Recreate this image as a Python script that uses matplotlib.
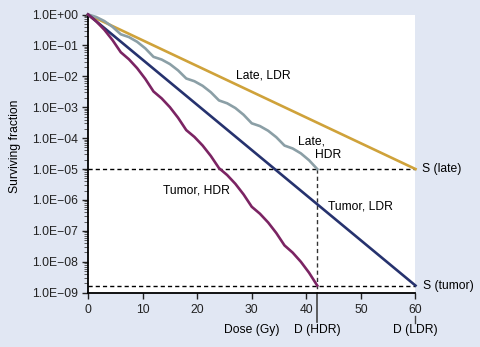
import matplotlib
matplotlib.use("Agg")
import matplotlib.pyplot as plt
import matplotlib.transforms as mtransforms
from matplotlib.ticker import LogLocator, FixedLocator, NullFormatter
import numpy as np

plt.rcParams['font.family'] = ['Liberation Sans', 'DejaVu Sans']
plt.rcParams['axes.unicode_minus'] = True

# Continuous low-dose-rate delivery (dose in Gy, surviving fraction)
ldr_dose = [0, 60]
late_ldr = [1.0, 1.0e-5]
tumor_ldr = [1.0, 1.7e-9]

# Fractionated high-dose-rate delivery: 7 fractions of 6 Gy
hdr_dose = [0, 1.5, 3, 4.5, 6, 7.5, 9, 10.5, 12, 13.5, 15, 16.5, 18, 19.5, 21,
            22.5, 24, 25.5, 27, 28.5, 30, 31.5, 33, 34.5, 36, 37.5, 39, 40.5, 42]
late_hdr_log10 = [0.0, -0.08, -0.213, -0.40, -0.64,
                  -0.731, -0.883, -1.096, -1.37,
                  -1.458, -1.603, -1.808, -2.07,
                  -2.159, -2.307, -2.514, -2.78,
                  -2.873, -3.026, -3.243, -3.52,
                  -3.61, -3.76, -3.97, -4.24,
                  -4.335, -4.493, -4.715, -5.00]
tumor_hdr_log10 = [0.0, -0.22, -0.495, -0.83, -1.22,
                   -1.449, -1.736, -2.084, -2.49,
                   -2.715, -2.998, -3.34, -3.74,
                   -3.961, -4.239, -4.576, -4.97,
                   -5.195, -5.478, -5.82, -6.22,
                   -6.445, -6.728, -7.07, -7.47,
                   -7.704, -8.00, -8.354, -8.77]

s_late = 1.0e-5
s_tumor = 1.7e-9
d_hdr = 42
d_ldr = 60

x_ticks = [0, 10, 20, 30, 40, 50, 60]
y_ticks = [1e0, 1e-1, 1e-2, 1e-3, 1e-4, 1e-5, 1e-6, 1e-7, 1e-8, 1e-9]
y_tick_labels = ["1.0E+00", "1.0E\u221201", "1.0E\u221202", "1.0E\u221203",
                 "1.0E\u221204", "1.0E\u221205", "1.0E\u221206", "1.0E\u221207",
                 "1.0E\u221208", "1.0E\u221209"]

GOLD = "#cfa23a"
GREY = "#8b9fa6"
NAVY = "#26326e"
PURPLE = "#7b2463"
BG = "#e1e7f3"
FS = 8.7

fig = plt.figure(figsize=(4.81, 3.47), dpi=100, facecolor=BG)
ax = fig.add_axes([88 / 481, 1 - 292.7 / 347, 327.5 / 481, 278.2 / 347])
ax.set_facecolor("white")
ax.set_yscale("log")
ax.set_xlim(0, 60)
ax.set_ylim(1e-9, 1)

for s in ("top", "right"):
    ax.spines[s].set_visible(False)
for s in ("left", "bottom"):
    ax.spines[s].set_linewidth(1.3)
    ax.spines[s].set_color("black")

ax.xaxis.set_major_locator(FixedLocator(x_ticks))
ax.set_xticklabels([str(v) for v in x_ticks])
ax.yaxis.set_major_locator(FixedLocator(y_ticks))
ax.set_yticklabels(y_tick_labels)
ax.yaxis.set_minor_locator(LogLocator(base=10, subs=range(2, 10), numticks=20))
ax.yaxis.set_minor_formatter(NullFormatter())
ax.tick_params(axis="both", which="major", direction="out", length=4,
               width=1.0, labelsize=FS, colors="#222222")
ax.tick_params(axis="x", which="major", pad=4)
ax.tick_params(axis="y", which="major", pad=3)
ax.tick_params(axis="y", which="minor", direction="out", length=3.2, width=0.6,
               colors="#444444")

# reference levels and dose markers
dash = (3.0, 2.2)
ax.plot([0, 60], [s_late, s_late], color="black", lw=1.0, dashes=dash,
        clip_on=False, zorder=2)
ax.plot([0, 60], [s_tumor, s_tumor], color="black", lw=1.0, dashes=dash,
        clip_on=False, zorder=2)
ax.plot([d_hdr, d_hdr], [s_late, 1e-9], color="#333333", lw=1.0, dashes=dash,
        clip_on=False, zorder=2)

# survival curves
lw = 1.9
ax.plot(ldr_dose, late_ldr, color=GOLD, lw=lw, clip_on=False, zorder=3)
ax.plot(hdr_dose, np.power(10.0, late_hdr_log10), color=GREY, lw=lw,
        clip_on=False, zorder=3)
ax.plot(ldr_dose, tumor_ldr, color=NAVY, lw=lw, clip_on=False, zorder=3)
ax.plot(hdr_dose, np.power(10.0, tumor_hdr_log10), color=PURPLE, lw=lw,
        clip_on=False, zorder=3)

# curve labels
ax.text(27.2, 10 ** -1.96, "Late, LDR", fontsize=FS, va="center", ha="left")
ax.text(38.5, 10 ** -4.12, "Late,", fontsize=FS, va="center", ha="left")
ax.text(41.6, 10 ** -4.55, "HDR", fontsize=FS, va="center", ha="left")
ax.text(44.0, 10 ** -6.2, "Tumor, LDR", fontsize=FS, va="center", ha="left")
ax.text(13.8, 10 ** -5.68, "Tumor, HDR", fontsize=FS, va="center", ha="left")
ax.text(61.1, s_late, "S (late)", fontsize=FS, va="center", ha="left",
        clip_on=False)
ax.text(61.3, s_tumor, "S (tumor)", fontsize=FS, va="center", ha="left",
        clip_on=False)

# annotations below the dose axis
trans = mtransforms.blended_transform_factory(ax.transData, ax.transAxes)
ax.plot([d_hdr, d_hdr], [0, -0.105], transform=trans, color="#444444", lw=1.2,
        clip_on=False)
ax.plot([d_ldr, d_ldr], [-0.084, -0.109], transform=trans, color="#444444",
        lw=1.0, clip_on=False)
ax.text(30.0, -0.134, "Dose (Gy)", transform=trans, fontsize=FS,
        ha="center", va="center")
ax.text(d_hdr, -0.134, "D (HDR)", transform=trans, fontsize=FS,
        ha="center", va="center")
ax.text(d_ldr, -0.134, "D (LDR)", transform=trans, fontsize=FS,
        ha="center", va="center")

fig.text(15 / 481, 1 - 146 / 347, "Surviving fraction", rotation=90,
         fontsize=FS, ha="center", va="center")

fig.savefig("out.png", dpi=100, facecolor=BG)
